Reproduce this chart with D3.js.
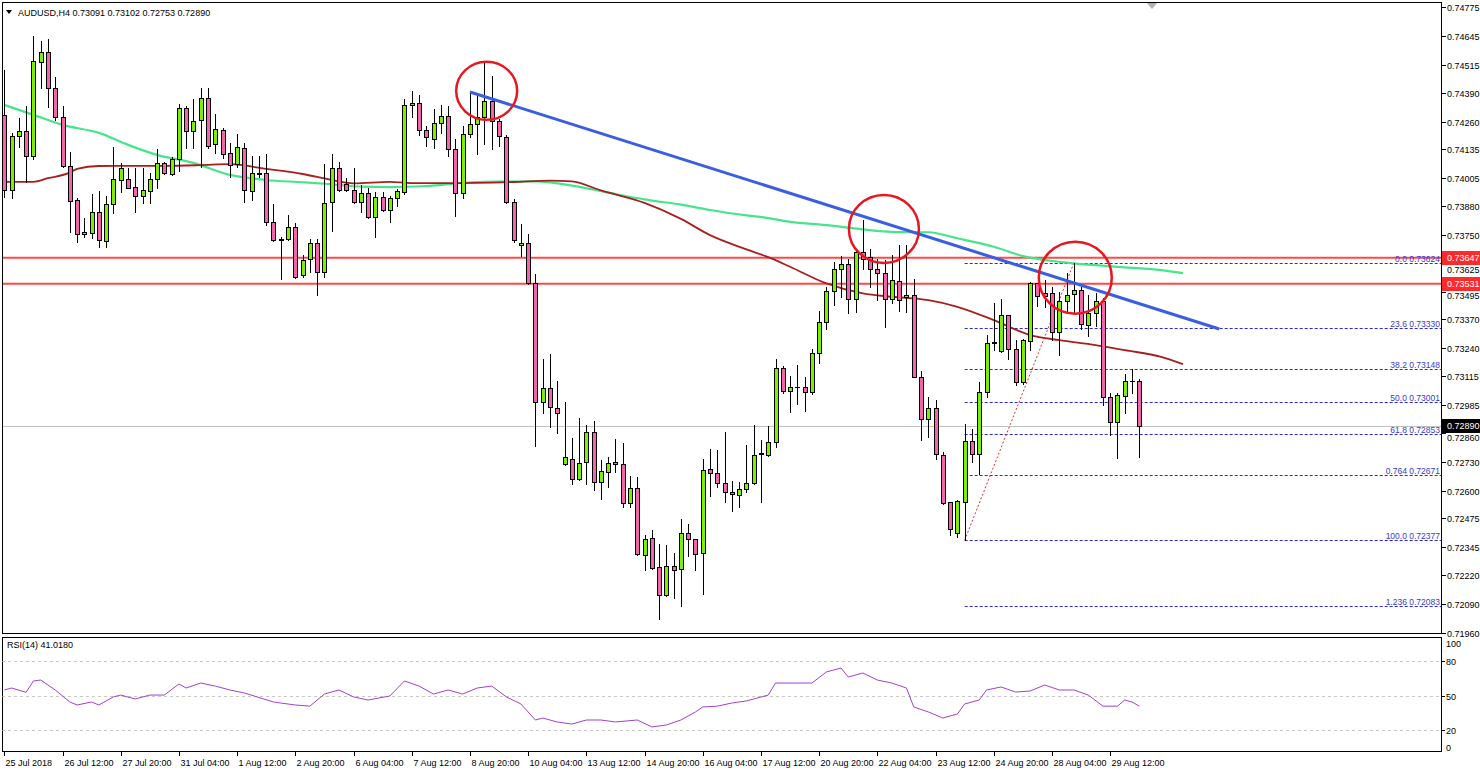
<!DOCTYPE html>
<html><head><meta charset="utf-8">
<script src="https://cdn.jsdelivr.net/npm/d3@7"></script>
<style>
html,body{margin:0;padding:0;background:#fff;}
svg{display:block;}
text{font-family:Tahoma,"Liberation Sans",Arial,sans-serif;}
</style></head><body>
<svg id="c" width="1480" height="772"></svg>
<script>
// ---------------- DATA ----------------
const symbolTitle = "AUDUSD,H4";
const openP = [0.74290,0.73952,0.74195,0.74218,0.74105,0.74528,0.74573,0.74411,0.74281,0.74060,
0.73907,0.73754,0.73759,0.73853,0.73723,0.73889,0.73997,0.74002,0.73966,0.73925,
0.73948,0.74002,0.74074,0.74024,0.74092,0.74321,0.74218,0.74267,0.74366,0.74159,
0.74222,0.74119,0.74069,0.74141,0.73948,0.74029,0.74029,0.73808,0.73732,0.73732,
0.73786,0.73570,0.73642,0.73714,0.73583,0.73898,0.74051,0.73979,0.73952,0.73898,
0.73939,0.73831,0.73921,0.73862,0.73916,0.73943,0.74335,0.74344,0.74222,0.74182,
0.74254,0.74285,0.74137,0.73939,0.74204,0.74249,0.74281,0.74353,0.74263,0.74191,
0.73898,0.73705,0.73714,0.73534,0.72998,0.73061,0.72971,0.72719,0.72742,0.72652,
0.72728,0.72863,0.72638,0.72683,0.72728,0.72719,0.72544,0.72611,0.72310,0.72386,
0.72256,0.72130,0.72260,0.72247,0.72409,0.72382,0.72319,0.72697,0.72681,0.72634,
0.72593,0.72580,0.72607,0.72634,0.72764,0.72762,0.72819,0.73152,0.73049,0.73067,
0.73067,0.73042,0.73217,0.73359,0.73499,0.73599,0.73619,0.73461,0.73674,0.73649,
0.73595,0.73577,0.73460,0.73542,0.73469,0.73480,0.73112,0.72924,0.72972,0.72762,
0.72547,0.72411,0.72549,0.72824,0.72764,0.73044,0.73262,0.73229,0.73389,0.73235,
0.73089,0.73274,0.73532,0.73490,0.73490,0.73314,0.73454,0.73484,0.73502,0.73344,
0.73397,0.73454,0.73019,0.72910,0.73025,0.73094,0.73091];
const highP = [0.74492,0.74209,0.74276,0.74330,0.74645,0.74623,0.74632,0.74461,0.74330,0.74123,
0.73916,0.73826,0.73934,0.73948,0.73925,0.74146,0.74074,0.74051,0.74051,0.74051,
0.74029,0.74137,0.74078,0.74101,0.74339,0.74330,0.74362,0.74411,0.74411,0.74294,
0.74231,0.74164,0.74204,0.74164,0.74105,0.74105,0.74114,0.73889,0.73741,0.73840,
0.73804,0.73660,0.73732,0.73732,0.74069,0.74114,0.74078,0.74006,0.74051,0.73975,
0.73961,0.73943,0.73943,0.73925,0.73957,0.74362,0.74398,0.74380,0.74240,0.74317,
0.74335,0.74330,0.74182,0.74240,0.74393,0.74384,0.74528,0.74465,0.74272,0.74200,
0.73912,0.73799,0.73754,0.73574,0.73192,0.73214,0.73093,0.72998,0.72836,0.72926,
0.72895,0.72913,0.72737,0.72751,0.72832,0.72814,0.72665,0.72661,0.72400,0.72422,
0.72359,0.72355,0.72319,0.72472,0.72449,0.72384,0.72742,0.72787,0.72782,0.72863,
0.72643,0.72638,0.72805,0.72895,0.72827,0.72890,0.73192,0.73160,0.73116,0.73164,
0.73112,0.73239,0.73409,0.73517,0.73629,0.73655,0.73644,0.73679,0.73817,0.73689,
0.73644,0.73637,0.73659,0.73704,0.73704,0.73554,0.73139,0.73019,0.73007,0.72774,
0.72549,0.72557,0.72899,0.72879,0.73089,0.73299,0.73442,0.73460,0.73392,0.73277,
0.73280,0.73539,0.73535,0.73547,0.73517,0.73494,0.73577,0.73624,0.73517,0.73479,
0.73487,0.73465,0.73037,0.73037,0.73123,0.73145,0.73102];
const lowP = [0.73921,0.73916,0.74146,0.73988,0.74092,0.74411,0.74326,0.74267,0.74056,0.73763,
0.73718,0.73741,0.73736,0.73696,0.73696,0.73849,0.73943,0.73960,0.73853,0.73894,
0.73894,0.73961,0.74024,0.74020,0.74038,0.74141,0.74141,0.74056,0.74141,0.74119,
0.74096,0.74011,0.74056,0.73898,0.73907,0.74011,0.73795,0.73723,0.73552,0.73727,
0.73556,0.73561,0.73583,0.73480,0.73561,0.73768,0.73948,0.73948,0.73894,0.73853,
0.73826,0.73741,0.73858,0.73808,0.73880,0.73934,0.74281,0.74200,0.74150,0.74141,
0.74208,0.74105,0.73835,0.73916,0.74191,0.74114,0.74159,0.74137,0.74150,0.73894,
0.73718,0.73655,0.73531,0.72800,0.72949,0.72886,0.72859,0.72715,0.72629,0.72647,
0.72629,0.72602,0.72562,0.72616,0.72683,0.72526,0.72526,0.72310,0.72242,0.72247,
0.72022,0.72127,0.72116,0.72080,0.72305,0.72242,0.72134,0.72575,0.72616,0.72548,
0.72508,0.72526,0.72593,0.72632,0.72548,0.72755,0.72797,0.73038,0.72954,0.72989,
0.72959,0.73034,0.73172,0.73329,0.73434,0.73472,0.73401,0.73404,0.73599,0.73517,
0.73457,0.73337,0.73442,0.73409,0.73404,0.73110,0.72827,0.72842,0.72744,0.72542,
0.72399,0.72392,0.72377,0.72729,0.72674,0.73022,0.73232,0.73224,0.73190,0.73074,
0.73079,0.73232,0.73430,0.73427,0.73277,0.73209,0.73409,0.73404,0.73329,0.73295,
0.73340,0.72985,0.72850,0.72745,0.72950,0.73040,0.72753];
const closeP = [0.73952,0.74195,0.74218,0.74105,0.74533,0.74573,0.74411,0.74281,0.74060,0.73903,
0.73754,0.73763,0.73853,0.73727,0.73889,0.74002,0.74051,0.73962,0.73925,0.73952,
0.74002,0.74074,0.74029,0.74092,0.74321,0.74218,0.74263,0.74366,0.74150,0.74227,
0.74114,0.74065,0.74146,0.73952,0.74029,0.74024,0.73808,0.73727,0.73727,0.73786,
0.73561,0.73637,0.73714,0.73583,0.73894,0.74051,0.73952,0.73952,0.73898,0.73939,
0.73831,0.73921,0.73862,0.73916,0.73948,0.74335,0.74344,0.74222,0.74191,0.74254,
0.74285,0.74137,0.73939,0.74204,0.74249,0.74281,0.74353,0.74263,0.74195,0.73898,
0.73727,0.73714,0.73535,0.72998,0.73061,0.72976,0.72951,0.72751,0.72652,0.72724,
0.72863,0.72638,0.72688,0.72724,0.72719,0.72544,0.72611,0.72314,0.72382,0.72251,
0.72130,0.72260,0.72242,0.72409,0.72382,0.72314,0.72692,0.72681,0.72634,0.72593,
0.72584,0.72607,0.72634,0.72760,0.72769,0.72820,0.73152,0.73049,0.73067,0.73064,
0.73044,0.73217,0.73359,0.73499,0.73599,0.73619,0.73461,0.73674,0.73643,0.73595,
0.73577,0.73460,0.73547,0.73457,0.73480,0.73112,0.72924,0.72972,0.72767,0.72545,
0.72429,0.72552,0.72824,0.72764,0.73044,0.73262,0.73267,0.73389,0.73235,0.73089,
0.73277,0.73532,0.73475,0.73475,0.73314,0.73454,0.73482,0.73502,0.73349,0.73397,
0.73454,0.73019,0.72910,0.73030,0.73093,0.73091,0.72890];

const priceTicks = [0.74775,0.74645,0.74515,0.74390,0.74260,0.74135,0.74005,0.73880,0.73750,0.73625,0.73495,0.73370,
  0.73240,0.73115,0.72985,0.72860,0.72730,0.72600,0.72475,0.72345,0.72220,0.72090,0.71960];
const timeLabels = ["25 Jul 2018","26 Jul 12:00","27 Jul 20:00","31 Jul 04:00","1 Aug 12:00","2 Aug 20:00",
  "6 Aug 04:00","7 Aug 12:00","8 Aug 20:00","10 Aug 04:00","13 Aug 12:00","14 Aug 20:00","16 Aug 04:00",
  "17 Aug 12:00","20 Aug 20:00","22 Aug 04:00","23 Aug 12:00","24 Aug 20:00","28 Aug 04:00","29 Aug 12:00"];
const timeLabelBars = [0,8,16,24,32,40,48,56,64,72,80,88,96,104,112,120,128,136,144,152];

// moving averages (bar index, value)
const maGreenIdx = [0,4,8,13,17,21,26,31,36,41,45,49,53,58,65,73,79,84,88,93,97,102,105,108,113,118,122,127,131,136,140,145,150,154,159,162];
const maGreenVal = [0.74335,0.74290,0.74245,0.74209,0.74155,0.74110,0.74074,0.74020,0.73997,0.73987,0.73978,0.73967,0.73965,0.73970,0.73988,0.73991,0.73966,0.73934,0.73910,0.73886,0.73862,0.73838,0.73826,0.73809,0.73794,0.73775,0.73764,0.73762,0.73735,0.73697,0.73655,0.73629,0.73614,0.73604,0.73592,0.73578];
const maRedIdx = [0,4,6,9,10,13,18,22,27,31,36,41,45,48,53,56,61,70,75,78,82,88,93,97,102,105,108,113,118,122,127,131,136,141,145,150,154,159,162];
const maRedVal = [0.73989,0.73989,0.74005,0.74030,0.74047,0.74060,0.74061,0.74061,0.74064,0.74068,0.74047,0.74024,0.73997,0.73982,0.73989,0.73983,0.73983,0.73988,0.73994,0.73991,0.73950,0.73894,0.73822,0.73749,0.73685,0.73650,0.73607,0.73532,0.73487,0.73472,0.73457,0.73427,0.73367,0.73300,0.73277,0.73255,0.73232,0.73202,0.73169];

// RSI(14)
const rsiIdx = [0,1,3,4,5,7,9,10,12,13,15,16,18,20,22,24,25,27,29,31,33,37,38,40,42,44,46,48,50,53,55,57,59,61,63,65,67,69,71,73,74,76,78,80,82,84,87,89,91,93,95,96,98,100,102,105,106,109,111,113,115,116,118,120,122,124,125,127,129,131,132,134,135,137,139,141,143,145,147,149,151,153,154,155,156];
const rsiVal = [55,56.7,53,62.8,63.6,55,44.6,42,44.6,42,49,50.6,47.2,50.6,50.6,60.2,56.7,61,58.4,55,52.4,44.6,43.7,42,41,51.5,55,49,46.3,49.8,62.8,58.4,51.5,55,51.5,56.7,58.4,49,42.9,29,30.7,27.3,25.5,29,29,27.3,29,23,24.7,29,36,40.3,41,43.7,45.5,50.6,61,61,61,70.6,74,66.2,69.7,63.6,61,56.7,40.3,36,30.7,34.2,42.9,46.3,55,57.6,53.2,54.1,59.3,55,55,50.6,41,41,46.3,44.6,41.018];
const rsiLevels = [80,50,20];

const hLevels = [0.73647,0.73531];
const lastPrice = 0.72890;
const fibText = ["0.0","23.6","38.2","50.0","61.8","0.764","100.0","1.236"];
const fibPrice = [0.73624,0.73330,0.73148,0.73001,0.72853,0.72671,0.72377,0.72083];
const fibStartBar = 132;
const trendIdx = [64,167], trendVal = [0.74393,0.73327];
const fibBaseIdx = [132,147], fibBaseVal = [0.72377,0.73624];
const circleIdx = [66.3,120.9,147.2], circleVal = [0.74398,0.73777,0.73558];

// ---------------- LAYOUT / STYLE ----------------
const L = 2, R = 1442, mainTop = 2, mainBot = 634, rsiTop = 637, rsiBot = 752;
const circleR = [[30.5,29],[35,34],[36.5,36]];
const bullCol = "#7cf000", bearCol = "#f264ac";
const FS = "9px";
const svg = d3.select("#c");
const x = d3.scaleLinear().domain([0,156]).range([4.3,1139.3]);
const y = d3.scaleLinear().domain([0.71960,0.74775]).range([633,7]);
const r = d3.scaleLinear().domain([0,100]).range([753.5,638]);

const defs = svg.append("defs");
defs.append("clipPath").attr("id","cm").append("rect").attr("x",L+0.5).attr("y",mainTop+0.5).attr("width",R-L-1).attr("height",mainBot-mainTop-1);
defs.append("clipPath").attr("id","cr").append("rect").attr("x",L+0.5).attr("y",rsiTop+0.5).attr("width",R-L-1).attr("height",rsiBot-rsiTop-1);

const gm = svg.append("g").attr("clip-path","url(#cm)");
const cr = v => Math.round(v)+0.5;

// horizontal lines
gm.append("line").attr("x1",L).attr("x2",R).attr("y1",cr(y(lastPrice))).attr("y2",cr(y(lastPrice))).attr("stroke","#c0c0c0").attr("stroke-width",1);
hLevels.forEach(p=>{
  gm.append("line").attr("x1",L).attr("x2",R).attr("y1",y(p)).attr("y2",y(p)).attr("stroke","#ff4848").attr("stroke-width",2);
});

// fibonacci levels
fibPrice.forEach((p,k)=>{
  const yy = cr(y(p));
  gm.append("line").attr("x1",x(fibStartBar)).attr("x2",R).attr("y1",yy).attr("y2",yy)
    .attr("stroke","#2b2bd8").attr("stroke-width",1).attr("stroke-dasharray","3,2");
  gm.append("text").attr("x",1440).attr("y",yy-2).attr("text-anchor","end")
    .attr("font-size","8.5px").attr("fill","#3a3ad0").text(fibText[k]+" "+p.toFixed(5));
});
// fib base dotted line
gm.append("line").attr("x1",x(fibBaseIdx[0])).attr("y1",y(fibBaseVal[0])).attr("x2",x(fibBaseIdx[1])).attr("y2",y(fibBaseVal[1]))
  .attr("stroke","#e03030").attr("stroke-width",1).attr("stroke-dasharray","2,2");

// moving averages
const maLine = d3.line().x(d=>x(d[0])).y(d=>y(d[1])).curve(d3.curveMonotoneX);
gm.append("path").attr("d",maLine(maGreenIdx.map((v,i)=>[v,maGreenVal[i]]))).attr("fill","none").attr("stroke","#46e58c").attr("stroke-width",2.2);
gm.append("path").attr("d",maLine(maRedIdx.map((v,i)=>[v,maRedVal[i]]))).attr("fill","none").attr("stroke","#a8201e").attr("stroke-width",1.8);

// candles
const bars = d3.range(openP.length);
const cg = gm.append("g");
bars.forEach(i=>{
  const X = Math.round(x(i));
  const o=openP[i], c=closeP[i], h=highP[i], l=lowP[i];
  cg.append("line").attr("x1",X+0.5).attr("x2",X+0.5).attr("y1",Math.round(y(h))).attr("y2",Math.round(y(l))+1)
    .attr("stroke","#000").attr("stroke-width",1);
  const t = Math.round(y(Math.max(o,c))), b = Math.round(y(Math.min(o,c)));
  if (b - t < 1) {
    cg.append("line").attr("x1",X-2).attr("x2",X+3).attr("y1",t+0.5).attr("y2",t+0.5).attr("stroke","#000");
  } else {
    cg.append("rect").attr("x",X-1.5).attr("y",t+0.5).attr("width",4).attr("height",b-t)
      .attr("fill", c>=o?bullCol:bearCol).attr("stroke","#000").attr("stroke-width",1);
  }
});

// trend line
gm.append("line").attr("x1",x(trendIdx[0])).attr("y1",y(trendVal[0])).attr("x2",x(trendIdx[1])).attr("y2",y(trendVal[1]))
  .attr("stroke","#3a5ee0").attr("stroke-width",3);

// circles
circleIdx.forEach((ci,k)=>{
  gm.append("ellipse").attr("cx",x(ci)).attr("cy",y(circleVal[k])).attr("rx",circleR[k][0]).attr("ry",circleR[k][1])
    .attr("fill","none").attr("stroke","#e8161e").attr("stroke-width",2.5);
});

// chart shift marker
svg.append("path").attr("d","M1147,3 L1157,3 L1152,9 Z").attr("fill","#b0b0b0");

// panel borders
svg.append("rect").attr("x",L+0.5).attr("y",mainTop+0.5).attr("width",R-L-1).attr("height",mainBot-mainTop-1).attr("fill","none").attr("stroke","#000");
svg.append("rect").attr("x",L+0.5).attr("y",rsiTop+0.5).attr("width",R-L-1).attr("height",rsiBot-rsiTop-1).attr("fill","none").attr("stroke","#000");

// price axis: labels that a level box would cover are nudged just below the box
const boxPrices = hLevels.concat([lastPrice]);
priceTicks.forEach(p=>{
  const yy = cr(y(p));
  svg.append("line").attr("x1",R).attr("x2",R+4).attr("y1",yy).attr("y2",yy).attr("stroke","#000");
  let ty = yy;
  boxPrices.forEach(bp=>{
    const by = Math.round(y(bp));
    if (Math.abs(by - yy) < 12) ty = by + 7 + 5;
  });
  svg.append("text").attr("x",R+5).attr("y",ty).attr("dy","0.35em").attr("font-size",FS).attr("fill","#000").text(p.toFixed(5));
});
function priceBox(p, col){
  const yy = Math.round(y(p));
  svg.append("rect").attr("x",R).attr("y",yy-7).attr("width",1480-R).attr("height",14).attr("fill",col);
  svg.append("text").attr("x",R+5).attr("y",yy).attr("dy","0.35em").attr("font-size",FS).attr("fill","#fff").text(p.toFixed(5));
}
hLevels.forEach(p=>priceBox(p,"#ff2a2a"));
priceBox(lastPrice,"#000");

// header
svg.append("path").attr("d","M6,10 L12,10 L9,14 Z").attr("fill","#000");
svg.append("text").attr("x",18).attr("y",16).attr("font-size",FS).attr("fill","#000")
  .text(symbolTitle+"  "+[openP[156],highP[156],lowP[156],closeP[156]].map(v=>v.toFixed(5)).join(" "));

// RSI panel
const gr = svg.append("g").attr("clip-path","url(#cr)");
rsiLevels.forEach(v=>{
  gr.append("line").attr("x1",L).attr("x2",R).attr("y1",cr(r(v))).attr("y2",cr(r(v))).attr("stroke","#c8c8c8").attr("stroke-dasharray","3,3");
});
const rsiLine = d3.line().x(d=>x(d[0])).y(d=>r(d[1]));
gr.append("path").attr("d",rsiLine(rsiIdx.map((v,i)=>[v,rsiVal[i]]))).attr("fill","none").attr("stroke","#a040d0").attr("stroke-width",1);
svg.append("text").attr("x",7).attr("y",648).attr("font-size",FS).attr("fill","#000").text("RSI(14) "+rsiVal[rsiVal.length-1].toFixed(4));
[[100,644],[0,748]].forEach(d=>svg.append("text").attr("x",R+4).attr("y",d[1]).attr("dy","0.35em").attr("font-size",FS).text(d[0]));
rsiLevels.forEach(v=>{
  svg.append("line").attr("x1",R).attr("x2",R+3).attr("y1",cr(r(v))).attr("y2",cr(r(v))).attr("stroke","#000");
  svg.append("text").attr("x",R+4).attr("y",cr(r(v))).attr("dy","0.35em").attr("font-size",FS).text(v);
});

// time axis
timeLabelBars.forEach((b,k)=>{
  const X = Math.round(x(b))+0.5;
  svg.append("line").attr("x1",X).attr("x2",X).attr("y1",rsiBot).attr("y2",rsiBot+4).attr("stroke","#000");
  svg.append("text").attr("x",X+1).attr("y",766).attr("font-size",FS).attr("fill","#000").text(timeLabels[k]);
});
</script>
</body></html>
